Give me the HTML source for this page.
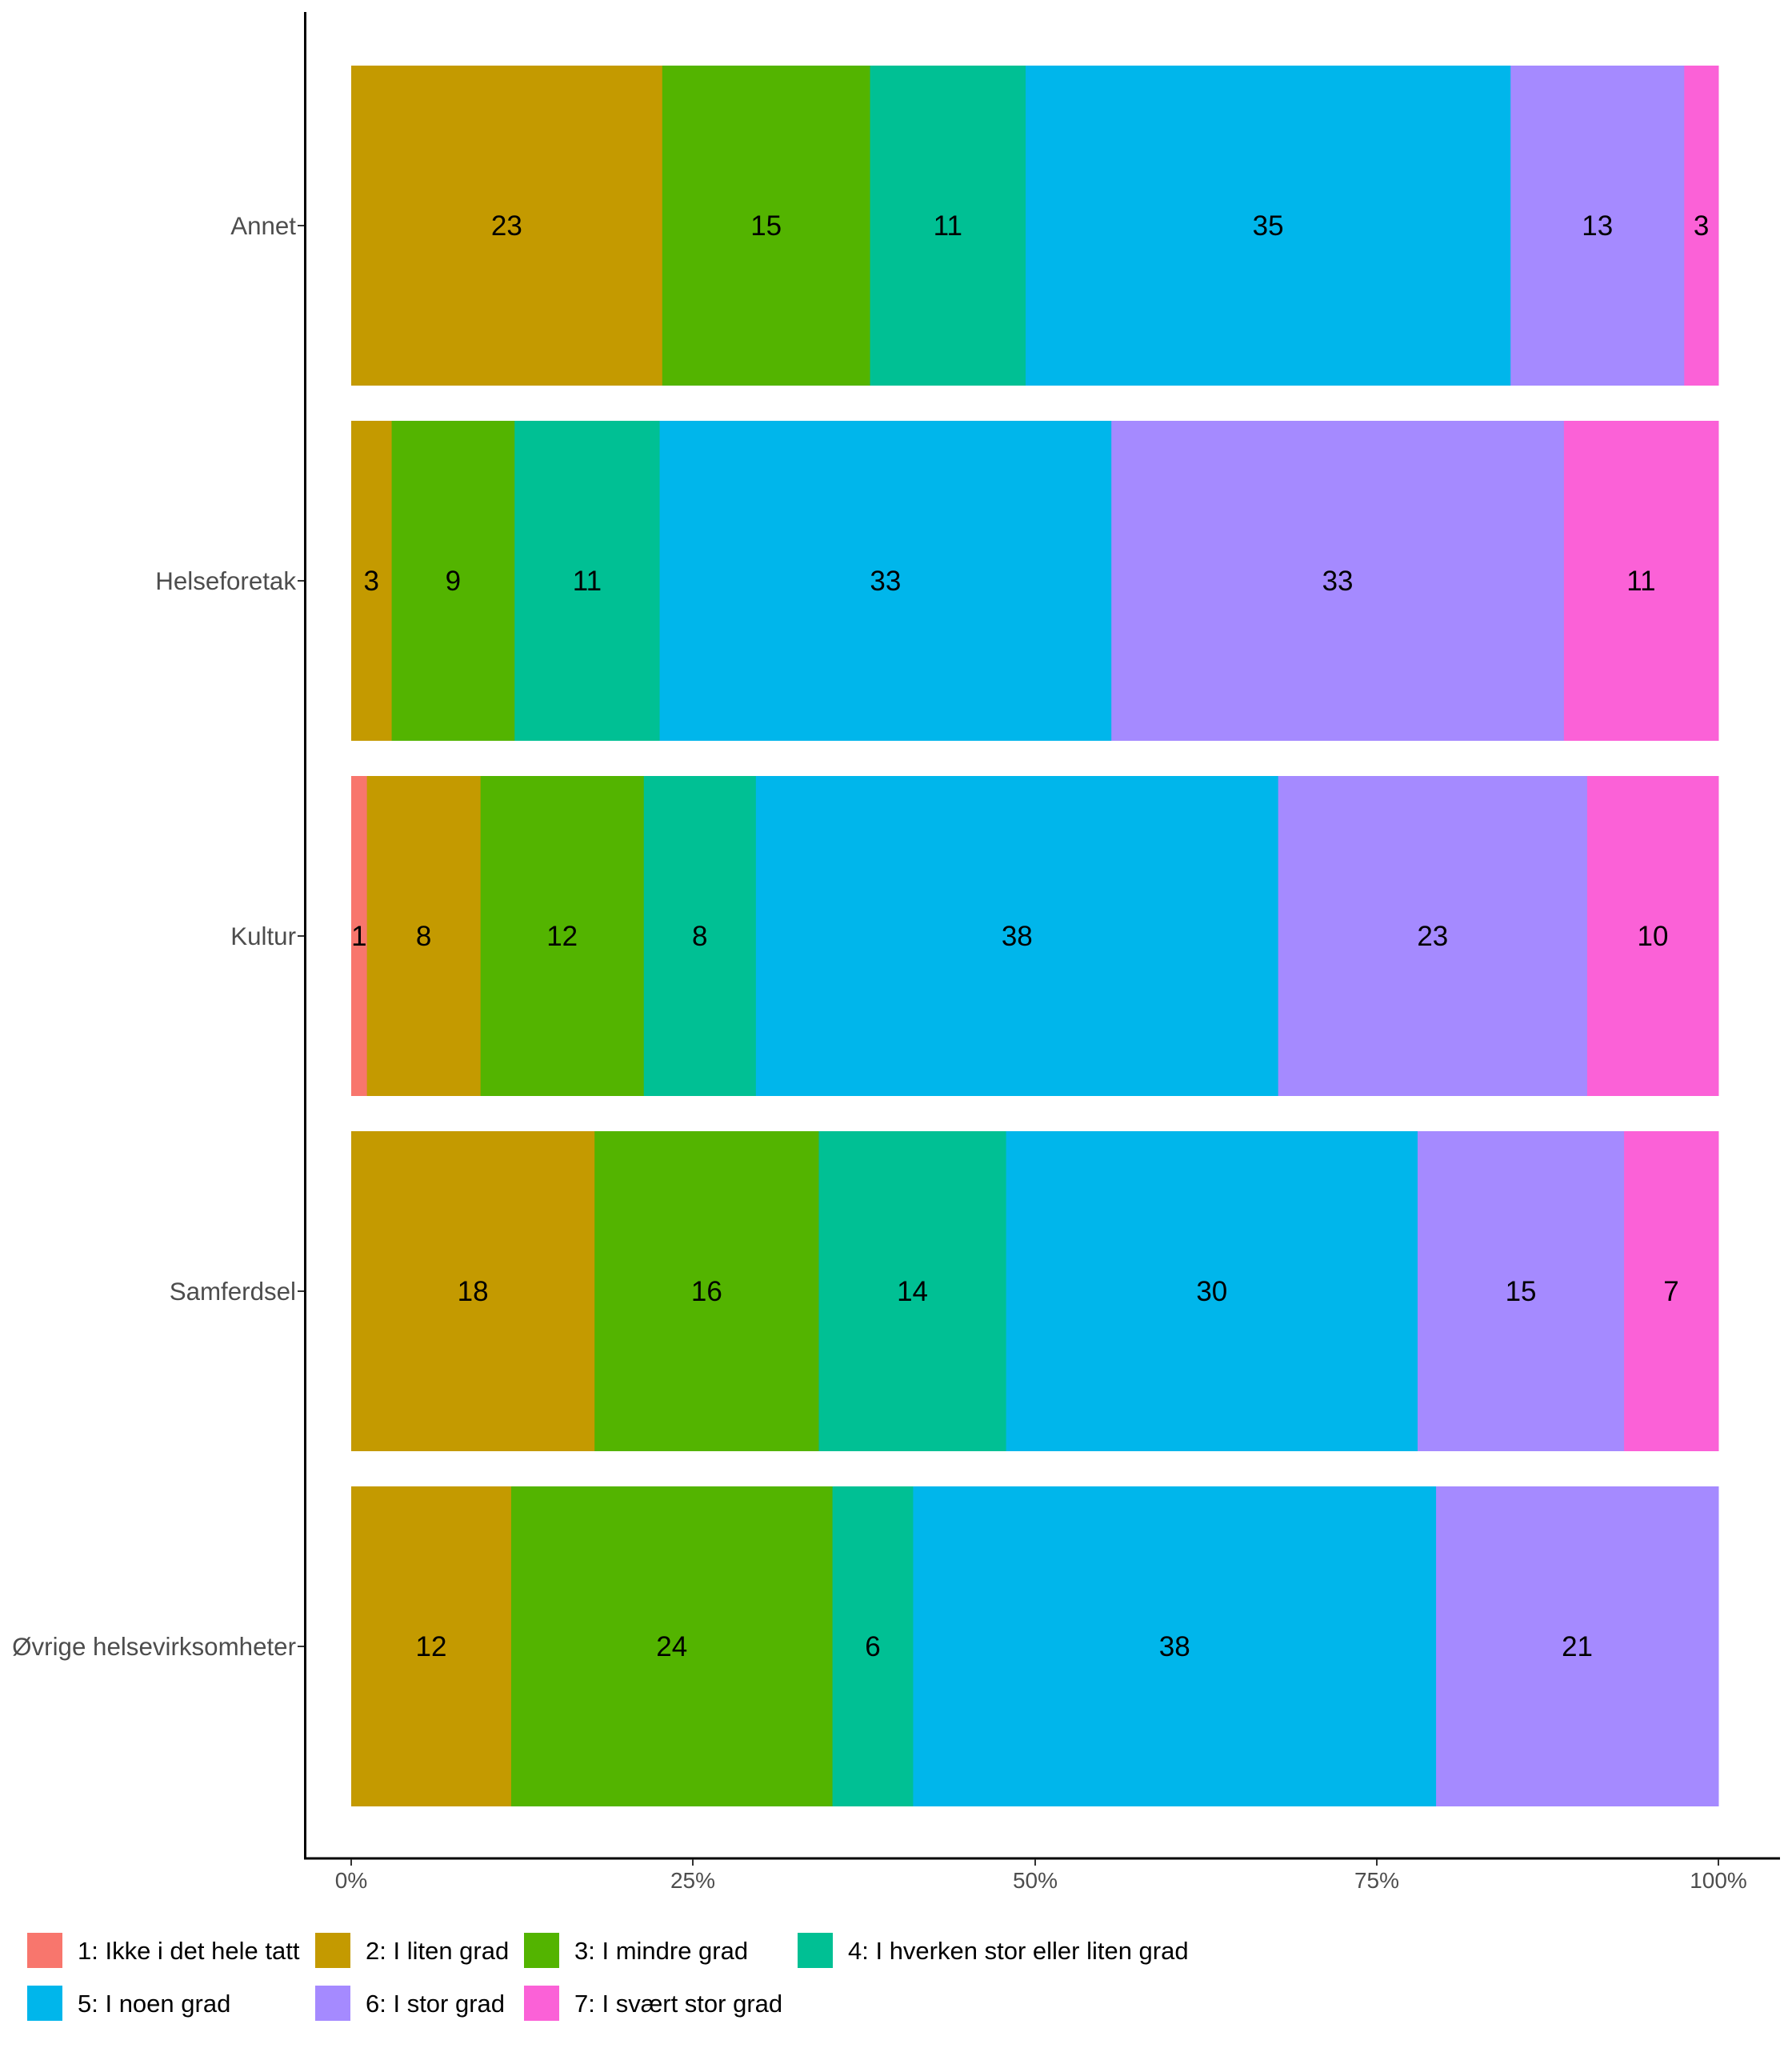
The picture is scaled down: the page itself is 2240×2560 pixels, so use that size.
<!DOCTYPE html>
<html><head><meta charset="utf-8"><style>
html,body{margin:0;padding:0;background:#fff;}
svg{display:block;font-family:"Liberation Sans",Arial,sans-serif;}
</style></head><body>
<svg width="2240" height="2560" viewBox="0 0 2240 2560" xmlns="http://www.w3.org/2000/svg">
<rect width="2240" height="2560" fill="#fff"/>
<g id="bars"></g>
<line x1="381.5" y1="15" x2="381.5" y2="2324" stroke="#000" stroke-width="3"/>
<line x1="380" y1="2323" x2="2225" y2="2323" stroke="#000" stroke-width="3"/>
<g font-size="28" fill="#4d4d4d" text-anchor="middle">
<line x1="439" y1="2324" x2="439" y2="2332" stroke="#333" stroke-width="2"/><text x="439" y="2360">0%</text>
<line x1="866" y1="2324" x2="866" y2="2332" stroke="#333" stroke-width="2"/><text x="866" y="2360">25%</text>
<line x1="1294" y1="2324" x2="1294" y2="2332" stroke="#333" stroke-width="2"/><text x="1294" y="2360">50%</text>
<line x1="1721" y1="2324" x2="1721" y2="2332" stroke="#333" stroke-width="2"/><text x="1721" y="2360">75%</text>
<line x1="2148" y1="2324" x2="2148" y2="2332" stroke="#333" stroke-width="2"/><text x="2148" y="2360">100%</text>
</g>
<g font-size="31" fill="#000">
<rect x="34" y="2416" width="44" height="44" fill="#F8766D"/><text x="97" y="2449">1: Ikke i det hele tatt</text>
<rect x="394" y="2416" width="44" height="44" fill="#C49A00"/><text x="457" y="2449">2: I liten grad</text>
<rect x="655" y="2416" width="44" height="44" fill="#53B400"/><text x="718" y="2449">3: I mindre grad</text>
<rect x="997" y="2416" width="44" height="44" fill="#00C094"/><text x="1060" y="2449">4: I hverken stor eller liten grad</text>
<rect x="34" y="2482" width="44" height="44" fill="#00B6EB"/><text x="97" y="2515">5: I noen grad</text>
<rect x="394" y="2482" width="44" height="44" fill="#A58AFF"/><text x="457" y="2515">6: I stor grad</text>
<rect x="655" y="2482" width="44" height="44" fill="#FB61D7"/><text x="718" y="2515">7: I svært stor grad</text>
</g>
</svg>
<script>
var cols=["#F8766D","#C49A00","#53B400","#00C094","#00B6EB","#A58AFF","#FB61D7"];
var rows=[
["Annet",[[1,0,22.75,"23"],[2,22.75,37.95,"15"],[3,37.95,49.33,"11"],[4,49.33,84.8,"35"],[5,84.8,97.5,"13"],[6,97.5,100,"3"]]],
["Helseforetak",[[1,0,2.96,"3"],[2,2.96,11.95,"9"],[3,11.95,22.56,"11"],[4,22.56,55.6,"33"],[5,55.6,88.7,"33"],[6,88.7,100,"11"]]],
["Kultur",[[0,0,1.15,"1"],[1,1.15,9.46,"8"],[2,9.46,21.4,"12"],[3,21.4,29.6,"8"],[4,29.6,67.8,"38"],[5,67.8,90.4,"23"],[6,90.4,100,"10"]]],
["Samferdsel",[[1,0,17.8,"18"],[2,17.8,34.2,"16"],[3,34.2,47.9,"14"],[4,47.9,78.0,"30"],[5,78.0,93.1,"15"],[6,93.1,100,"7"]]],
["Øvrige helsevirksomheter",[[1,0,11.7,"12"],[2,11.7,35.2,"24"],[3,35.2,41.1,"6"],[4,41.1,79.35,"38"],[5,79.35,100,"21"]]]
];
var ns="http://www.w3.org/2000/svg",g=document.getElementById("bars");
function el(t,a,txt){var e=document.createElementNS(ns,t);for(var k in a)e.setAttribute(k,a[k]);if(txt!=null)e.textContent=txt;g.appendChild(e);return e;}
var x0=439,W=1709;
rows.forEach(function(r,i){
 var top=82+i*444,cy=top+200;
 r[1].forEach(function(s){
  var a=x0+W*s[1]/100,b=x0+W*s[2]/100;
  el("rect",{x:a,y:top,width:b-a+0.5,height:400,fill:cols[s[0]]});
 });
 r[1].forEach(function(s){
  var a=x0+W*s[1]/100,b=x0+W*s[2]/100;
  el("text",{x:(a+b)/2,y:cy+12,"font-size":35,"text-anchor":"middle",fill:"#000"},s[3]);
 });
 el("line",{x1:372,y1:cy,x2:381,y2:cy,stroke:"#333","stroke-width":2});
 el("text",{x:370,y:cy+11,"font-size":31.3,"text-anchor":"end",fill:"#4d4d4d"},r[0]);
});
</script>
</body></html>
